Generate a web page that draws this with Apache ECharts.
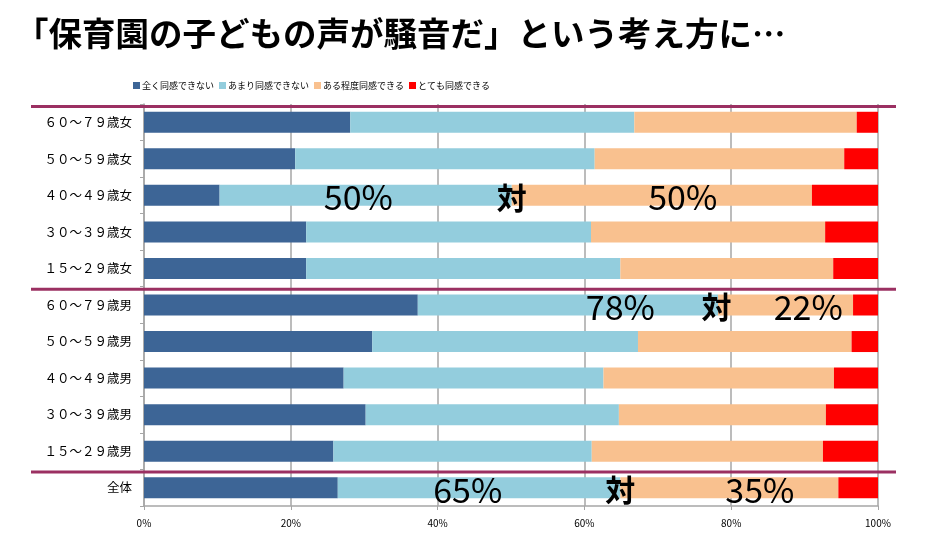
<!DOCTYPE html>
<html><head><meta charset="utf-8">
<script src="https://cdn.jsdelivr.net/npm/echarts@6/dist/echarts.min.js"></script>
<style>html,body{margin:0;padding:0;background:#fff}#c{width:930px;height:537px}</style>
</head><body><div id="c"></div>
<script>
const titleText = '「保育園の子どもの声が騒音だ」という考え方に…';
const categories = ['６０～７９歳女','５０～５９歳女','４０～４９歳女','３０～３９歳女','１５～２９歳女',
  '６０～７９歳男','５０～５９歳男','４０～４９歳男','３０～３９歳男','１５～２９歳男','全体'];
const seriesNames = ['全く同感できない','あまり同感できない','ある程度同感できる','とても同感できる'];
const notAtAll   = [28.1, 20.6, 10.3, 22.1, 22.1, 37.3, 31.1, 27.2, 30.2, 25.8, 26.4];
const notReally  = [38.7, 40.8, 39.8, 38.8, 42.8, 40.9, 36.2, 35.4, 34.5, 35.2, 38.5];
const somewhat   = [30.3, 34.0, 40.9, 31.9, 29.0, 18.4, 29.1, 31.4, 28.2, 31.5, 29.7];
const very       = [ 2.9,  4.6,  9.0,  7.2,  6.1,  3.4,  3.6,  6.0,  7.1,  7.5,  5.4];
const xTicks = [0, 20, 40, 60, 80, 100];
// annotations: row, [text, x-position in %]
const annoRows = ['４０～４９歳女','６０～７９歳男','全体'];
const annoTexts = [['50%','対','50%'],['78%','対','22%'],['65%','対','35%']];
const annoX = [[29.2, 50.1, 73.4],[64.9, 78.0, 90.5],[44.1, 64.9, 83.9]];
// separator positions: boundary before these category indices
const separatorBefore = [0, 5, 10];

const colors = ['#3d6596','#93cddd','#f9c18f','#ff0000'];
const chart = echarts.init(document.getElementById('c'));
const values = [notAtAll, notReally, somewhat, very];
const font = '"Noto Sans CJK JP", sans-serif';

chart.setOption({
  animation: false,
  title: { text: titleText, left: 10, top: 12,
    textStyle: { fontSize: 33.5, fontWeight: 'bold', color: '#000', fontFamily: font } },
  legend: { data: seriesNames, left: 128, top: 76, itemWidth: 7, itemHeight: 7, itemGap: 5,
    icon: 'rect',
    textStyle: { fontSize: 9, color: '#000', fontFamily: font, padding: [0,0,0,-3] } },
  grid: { left: 144, right: 52, top: 104, bottom: 31 },
  xAxis: { type: 'value', min: 0, max: 100, interval: 20,
    axisLine: { show: true, lineStyle: { color: '#a6a6a6', width: 1.5 } },
    axisTick: { show: true, length: 4, lineStyle: { color: '#a6a6a6' } },
    splitLine: { lineStyle: { color: '#a6a6a6', width: 1.5 } },
    axisLabel: { formatter: v => xTicks.includes(v) ? v + '%' : '', fontSize: 10, color: '#000', margin: 12, fontFamily: font } },
  yAxis: { type: 'category', data: categories, inverse: true,
    axisLine: { show: true, lineStyle: { color: '#a6a6a6', width: 1.5 } },
    axisTick: { show: true, length: 4, lineStyle: { color: '#a6a6a6' } },
    axisLabel: { fontSize: 12.5, color: '#000', margin: 12, fontFamily: font } },
  series: seriesNames.map((n, i) => ({
    name: n, type: 'bar', stack: 'total', data: values[i], barWidth: 21,
    itemStyle: { color: colors[i] }
  }))
});

function layoutGraphics() {
  const g = [];
  const c0 = chart.convertToPixel({ gridIndex: 0 }, [0, categories[0]])[1];
  const c1 = chart.convertToPixel({ gridIndex: 0 }, [0, categories[1]])[1];
  const band = c1 - c0;
  separatorBefore.forEach(idx => {
    const y = chart.convertToPixel({ gridIndex: 0 }, [0, categories[idx]])[1] - band / 2 + 2.5;
    g.push({ type: 'line', shape: { x1: 31, y1: y, x2: 896, y2: y },
      style: { stroke: '#9b3062', lineWidth: 3 }, z: 100 });
  });
  annoRows.forEach((row, r) => {
    annoTexts[r].forEach((t, k) => {
      const p = chart.convertToPixel({ gridIndex: 0 }, [annoX[r][k], row]);
      g.push({ type: 'text', x: p[0], y: p[1] + 2, z: 101,
        style: { text: t, fill: '#000', fontSize: t === '対' ? 30 : 34,
          fontWeight: t === '対' ? 'bold' : 'normal',
          fontFamily: font, align: 'center', verticalAlign: 'middle' } });
    });
  });
  chart.setOption({ graphic: g });
}
layoutGraphics();
</script></body></html>
